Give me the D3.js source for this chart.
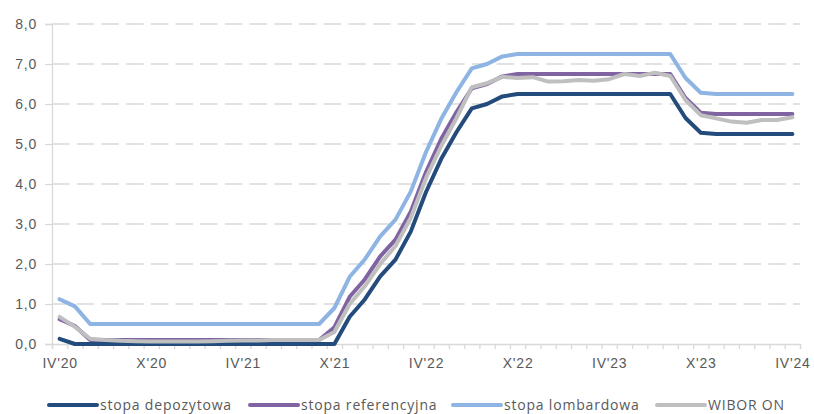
<!DOCTYPE html>
<html>
<head>
<meta charset="utf-8">
<script src="https://cdn.jsdelivr.net/npm/d3@7"></script>
<style>
  body { margin: 0; background: #fff; }
  svg { display: block; font-family: "Open Sans", sans-serif; }
  .lbl { fill: #595959; font-size: 14px; letter-spacing: 0.8px; }
</style>
</head>
<body>
<svg id="chart" width="814" height="414"></svg>
<script>
// months Apr 2020 .. Apr 2024 (monthly averages)
const months = [
  "IV'20","V'20","VI'20","VII'20","VIII'20","IX'20","X'20","XI'20","XII'20",
  "I'21","II'21","III'21","IV'21","V'21","VI'21","VII'21","VIII'21","IX'21","X'21","XI'21","XII'21",
  "I'22","II'22","III'22","IV'22","V'22","VI'22","VII'22","VIII'22","IX'22","X'22","XI'22","XII'22",
  "I'23","II'23","III'23","IV'23","V'23","VI'23","VII'23","VIII'23","IX'23","X'23","XI'23","XII'23",
  "I'24","II'24","III'24","IV'24"
];
const tickLabels = ["IV'20","X'20","IV'21","X'21","IV'22","X'22","IV'23","X'23","IV'24"];
const yTicks = [0, 1, 2, 3, 4, 5, 6, 7, 8];

const depozytowa = [
  0.13, 0.00, 0.00, 0.00, 0.00, 0.00, 0.00, 0.00, 0.00,
  0.00, 0.00, 0.00, 0.00, 0.00, 0.00, 0.00, 0.00, 0.00, 0.00, 0.68, 1.12,
  1.69, 2.11, 2.81, 3.80, 4.63, 5.30, 5.89, 6.00, 6.19, 6.25, 6.25, 6.25,
  6.25, 6.25, 6.25, 6.25, 6.25, 6.25, 6.25, 6.25, 5.65, 5.28, 5.25, 5.25,
  5.25, 5.25, 5.25, 5.25
];
const referencyjna = [
  0.62, 0.45, 0.10, 0.10, 0.10, 0.10, 0.10, 0.10, 0.10,
  0.10, 0.10, 0.10, 0.10, 0.10, 0.10, 0.10, 0.10, 0.10, 0.42, 1.18, 1.62,
  2.19, 2.61, 3.31, 4.30, 5.13, 5.80, 6.39, 6.50, 6.69, 6.75, 6.75, 6.75,
  6.75, 6.75, 6.75, 6.75, 6.75, 6.75, 6.75, 6.75, 6.15, 5.78, 5.75, 5.75,
  5.75, 5.75, 5.75, 5.75
];
const lombardowa = [
  1.12, 0.94, 0.50, 0.50, 0.50, 0.50, 0.50, 0.50, 0.50,
  0.50, 0.50, 0.50, 0.50, 0.50, 0.50, 0.50, 0.50, 0.50, 0.90, 1.68, 2.12,
  2.69, 3.11, 3.81, 4.80, 5.63, 6.30, 6.89, 7.00, 7.19, 7.25, 7.25, 7.25,
  7.25, 7.25, 7.25, 7.25, 7.25, 7.25, 7.25, 7.25, 6.65, 6.28, 6.25, 6.25,
  6.25, 6.25, 6.25, 6.25
];
const wiborOn = [
  0.68, 0.43, 0.13, 0.10, 0.08, 0.07, 0.06, 0.06, 0.06,
  0.06, 0.07, 0.08, 0.09, 0.09, 0.10, 0.10, 0.10, 0.10, 0.30, 1.00, 1.45,
  2.00, 2.45, 3.15, 4.15, 4.95, 5.65, 6.42, 6.52, 6.68, 6.65, 6.67, 6.56,
  6.57, 6.60, 6.58, 6.62, 6.75, 6.70, 6.78, 6.70, 6.10, 5.72, 5.64, 5.56,
  5.53, 5.60, 5.60, 5.67
];

const series = [
  { name: "stopa depozytowa", values: depozytowa, color: "#234b7c" },
  { name: "stopa referencyjna", values: referencyjna, color: "#8064a2" },
  { name: "stopa lombardowa", values: lombardowa, color: "#8db4e2" },
  { name: "WIBOR ON", values: wiborOn, color: "#bfbfbf" }
];

const svg = d3.select("#chart");
const plotL = 52, plotR = 800, plotT = 24, plotB = 344;

const x = d3.scalePoint().domain(months).range([plotL, plotR]).padding(0.5);
const xb = d3.scaleLinear().domain([0, months.length]).range([plotL, plotR]);
const y = d3.scaleLinear().domain([0, 8]).range([plotB, plotT]);
const fmt = v => d3.format(".1f")(v).replace(".", ",");

// grid
svg.append("g").selectAll("line").data(yTicks.filter(d => d > 0)).join("line")
  .attr("x1", plotL).attr("x2", plotR)
  .attr("y1", d => y(d)).attr("y2", d => y(d))
  .attr("stroke", "#d9d9d9").attr("stroke-width", 1.3)
  .attr("stroke-dasharray", "17.5,7.2");

// y axis
const ya = svg.append("g").attr("transform", `translate(${plotL},0)`)
  .call(d3.axisLeft(y).tickValues(yTicks).tickSize(7).tickPadding(8).tickFormat(fmt));
ya.select(".domain").attr("stroke", "#d9d9d9").attr("stroke-width", 1.3);
ya.selectAll(".tick line").attr("stroke", "#d9d9d9").attr("stroke-width", 1.3);
ya.selectAll("text").attr("class", "lbl").attr("font-family", null).attr("font-size", null);

// x axis: tick marks between categories
const xa = svg.append("g").attr("transform", `translate(0,${plotB})`)
  .call(d3.axisBottom(xb).tickValues(d3.range(months.length + 1)).tickSize(5).tickFormat(""));
xa.select(".domain").attr("stroke", "#d9d9d9").attr("stroke-width", 1.3);
xa.selectAll(".tick line").attr("stroke", "#d9d9d9").attr("stroke-width", 1.3);

const xl = svg.append("g").attr("transform", `translate(0,${plotB})`)
  .call(d3.axisBottom(x).tickValues(tickLabels).tickSize(0).tickPadding(14));
xl.select(".domain").remove();
xl.selectAll("text").attr("class", "lbl").attr("font-family", null).attr("font-size", null);

// lines
const line = d3.line().x((d, i) => x(months[i])).y(d => y(d));
svg.append("g").selectAll("path").data(series).join("path")
  .attr("d", d => line(d.values))
  .attr("fill", "none")
  .attr("stroke", d => d.color)
  .attr("stroke-width", 4)
  .attr("stroke-linejoin", "round")
  .attr("stroke-linecap", "round");

// legend
const legX = [49, 250, 453, 657];
const leg = svg.append("g").selectAll("g").data(series).join("g")
  .attr("transform", (d, i) => `translate(${legX[i]},405)`);
leg.append("line").attr("x1", 0).attr("x2", 48)
  .attr("stroke", d => d.color).attr("stroke-width", 4).attr("stroke-linecap", "round");
leg.append("text").attr("class", "lbl").attr("x", 51).attr("y", 5).text(d => d.name);
</script>
</body>
</html>
